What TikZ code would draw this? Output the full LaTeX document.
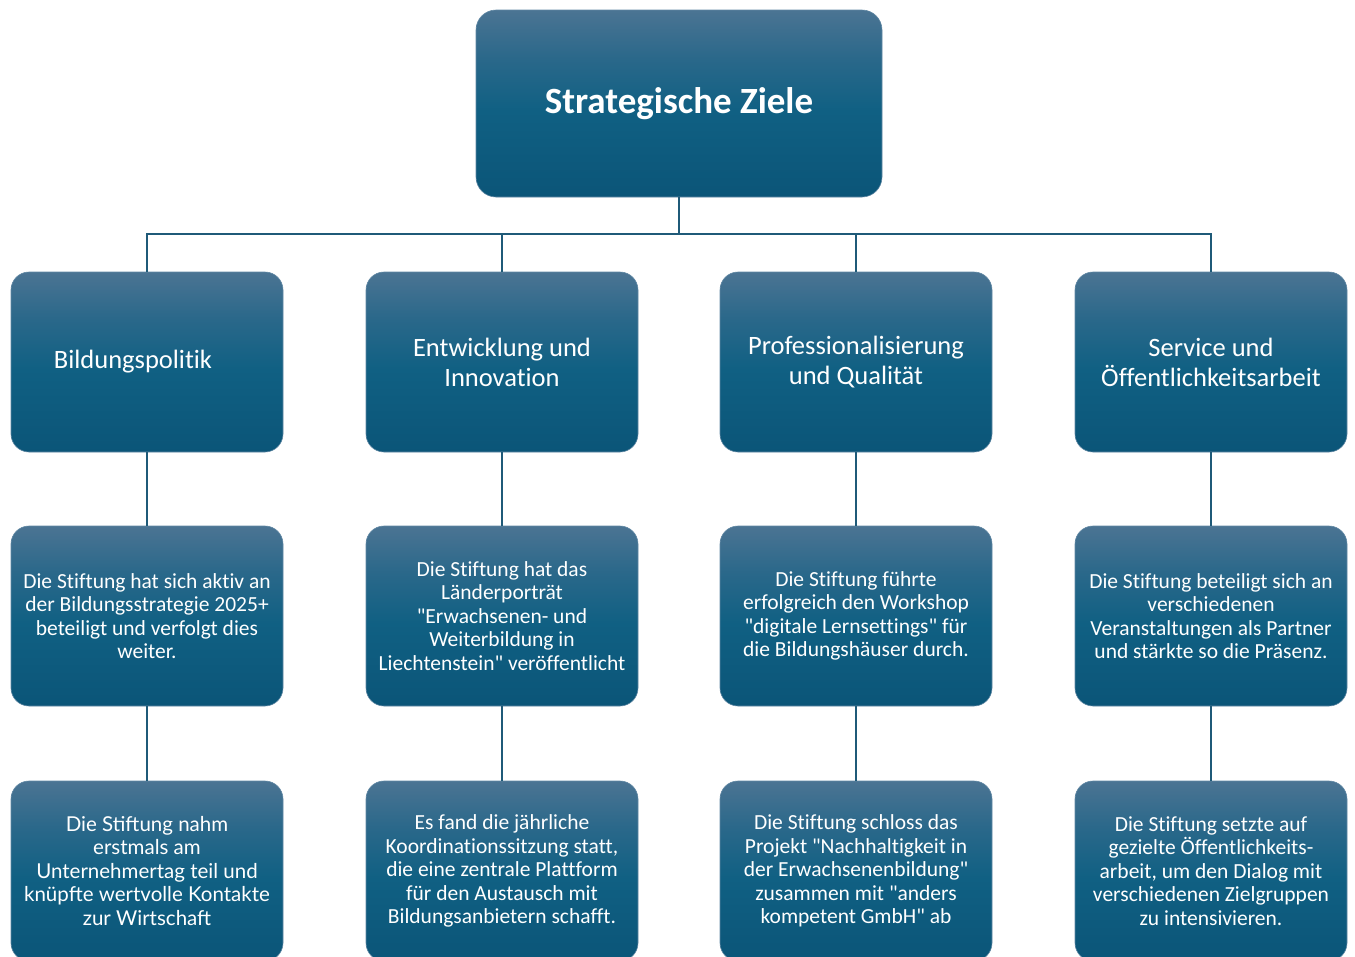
\documentclass[tikz,border=0pt]{standalone}
\usepackage{fontspec}
\newfontfamily\calfont[Ligatures=CommonOff]{Carlito}
\newfontfamily\aptosalt{Lato}
\definecolor{bbot}{RGB}{11,85,120}
\definecolor{bmid}{RGB}{16,96,131}
\definecolor{bup}{RGB}{42,104,138}
\definecolor{btop}{RGB}{75,116,147}
\definecolor{lnk}{RGB}{31,90,120}
\definecolor{bedge}{RGB}{96,135,163}
\pgfdeclareverticalshading{boxshade}{100bp}{color(0bp)=(bbot); color(25bp)=(bbot); color(48bp)=(bmid); color(62bp)=(bup); color(75bp)=(btop); color(100bp)=(btop)}
\begin{document}
\begin{tikzpicture}[x=1pt,y=-1pt,
  box/.style={rectangle, rounded corners=18pt, shading=boxshade, draw=bedge, line width=0.6pt,
    minimum width=272pt, minimum height=180pt, inner sep=0pt, text=white, align=center},
  head/.style={box, font=\calfont\fontsize{26.5}{30}\selectfont},
  body/.style={box, font=\calfont\fontsize{21.5}{23.5}\selectfont},
  link/.style={draw=lnk, line width=1.6pt}]
\useasboundingbox (0,0) rectangle (1355,956);
\begin{scope}
\clip (0,0) rectangle (1355,956);
\node[box, rounded corners=20pt, minimum width=406pt, minimum height=187pt, font=\calfont\bfseries\fontsize{37}{42}\selectfont] (top) at (679,103.5) {Strategische Ziele};

\node[head] (a1) at (147,362) {\hspace*{-28pt}Bildungspolitik};
\node[head] (b1) at (502,362) {Entwicklung und\\Innovation};
\node[head] (c1) at (856,362) {Professionalisierung\\und Qualität};
\node[head] (d1) at (1211,362) {Service und\\Öffentlichkeitsarbeit};

\node[body] (a2) at (147,616) {Die Stiftung hat sich aktiv an\\der Bildungsstrategie 2025+\\beteiligt und verfolgt dies\\weiter.};
\node[body] (b2) at (502,616) {Die Stiftung hat das\\Länderporträt\\"Erwachsenen- und\\Weiterbildung in\\Liechtenstein" veröffentlicht};
\node[body] (c2) at (856,616) {Die Stiftung führte\\erfolgreich den Workshop\\"digitale Lernsettings" für\\die Bildungshäuser durch.};
\node[body] (d2) at (1211,616) {Die Stiftung beteiligt sich an\\verschiedenen\\Veranstaltungen als Partner\\und stärkte so die Präsenz.};

\node[body, font=\aptosalt\fontsize{20.5}{23.5}\selectfont] (a3) at (147,871) {Die Stiftung nahm\\erstmals am\\Unternehmertag teil und\\knüpfte wertvolle Kontakte\\zur Wirtschaft};
\node[body] (b3) at (502,871) {Es fand die jährliche\\Koordinationssitzung statt,\\die eine zentrale Plattform\\für den Austausch mit\\Bildungsanbietern schafft.};
\node[body] (c3) at (856,871) {Die Stiftung schloss das\\Projekt "Nachhaltigkeit in\\der Erwachsenenbildung"\\zusammen mit "anders\\kompetent GmbH" ab};
\node[body] (d3) at (1211,871) {Die Stiftung setzte auf\\gezielte Öffentlichkeits-\\arbeit, um den Dialog mit\\verschiedenen Zielgruppen\\zu intensivieren.};

\coordinate (bus) at (679,234);
\draw[link] (top.south) -- (bus);
\draw[link] (bus) -| (a1.north);
\draw[link] (bus) -| (b1.north);
\draw[link] (bus) -| (c1.north);
\draw[link] (bus) -| (d1.north);
\draw[link] (a1) -- (a2); \draw[link] (a2) -- (a3);
\draw[link] (b1) -- (b2); \draw[link] (b2) -- (b3);
\draw[link] (c1) -- (c2); \draw[link] (c2) -- (c3);
\draw[link] (d1) -- (d2); \draw[link] (d2) -- (d3);
\end{scope}
\end{tikzpicture}
\end{document}
